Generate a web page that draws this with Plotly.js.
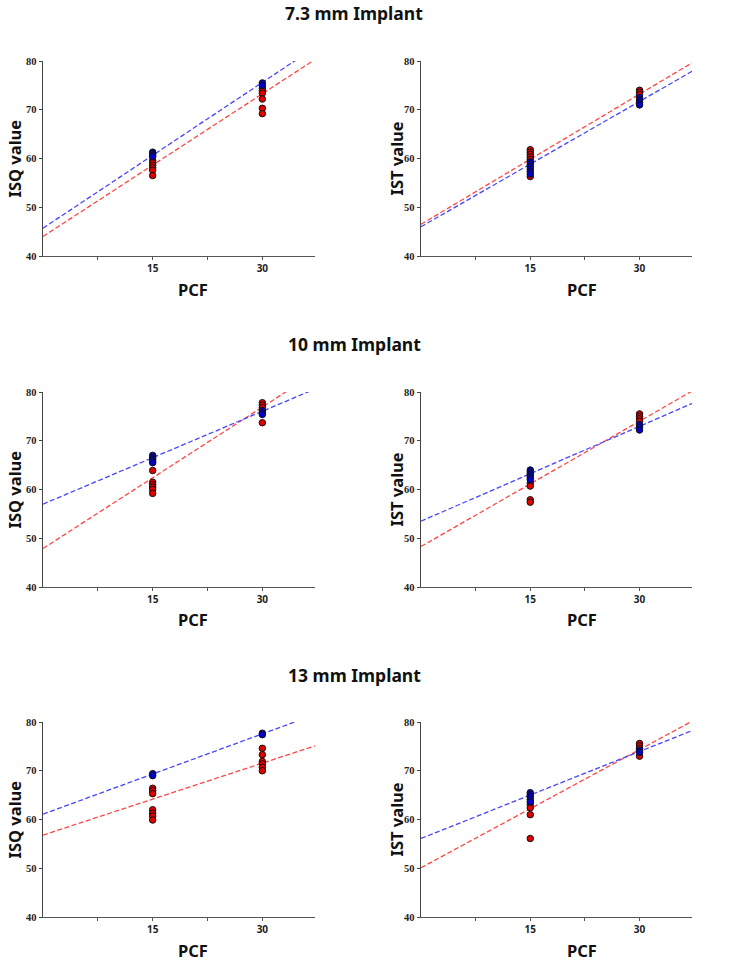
<!DOCTYPE html>
<html><head><meta charset="utf-8">
<script src="https://cdn.plot.ly/plotly-3.0.1.min.js"></script>
<style>html,body{margin:0;padding:0;background:#fff}#chart{width:733px;height:966px}</style>
</head><body><div id="chart"></div>
<script>
const groupTitles = ['7.3 mm Implant', '10 mm Implant', '13 mm Implant'];
const measureTitles = ['ISQ value', 'IST value'];
const xTitle = 'PCF';
const pcfTicks = [7.5, 15, 22.5, 30];
const pcfTickText = ['', '15', '', '30'];
const valueTicks = [40, 50, 60, 70, 80];

// panel order: 7.3 ISQ, 7.3 IST, 10 ISQ, 10 IST, 13 ISQ, 13 IST
const blueAt15 = [
  [61.3, 61.0, 60.7, 60.4],
  [59.3, 58.8, 58.3, 57.8, 57.3, 56.8],
  [67.0, 66.6, 66.2, 65.8, 65.5],
  [64.0, 63.6, 63.2, 62.8, 62.4, 62.0],
  [69.4, 69.0],
  [65.5, 65.1, 64.7, 64.1, 63.6]
];
const redAt15 = [
  [59.6, 59.1, 58.6, 58.1, 57.6, 56.5],
  [61.8, 61.3, 60.8, 60.3, 59.8, 56.3],
  [63.9, 61.5, 61.0, 60.5, 60.0, 59.2],
  [61.3, 60.7, 57.9, 57.4],
  [66.4, 65.9, 65.3, 62.0, 61.3, 60.7, 59.9],
  [63.1, 62.4, 61.0, 56.1]
];
const blueAt30 = [
  [75.5, 75.0],
  [72.5, 72.0, 71.5, 71.0],
  [76.2, 75.8, 75.4],
  [73.3, 72.8, 72.2],
  [77.7, 77.4],
  [74.2, 73.8]
];
const redAt30 = [
  [74.4, 73.9, 73.4, 72.2, 70.3, 69.2],
  [74.0, 73.6, 73.1],
  [77.8, 77.3, 76.8, 73.7],
  [75.5, 75.0, 74.5, 74.0],
  [74.6, 73.3, 71.9, 71.4, 70.7, 70.0],
  [75.6, 75.1, 74.6, 73.0]
];
// regression lines: intercept at PCF 0 and slope
const blueFitIntercept = [45.7, 46.0, 57.0, 53.5, 61.1, 56.1];
const blueFitSlope = [0.997, 0.857, 0.635, 0.649, 0.549, 0.595];
const redFitIntercept = [44.0, 46.5, 47.9, 48.3, 56.8, 50.1];
const redFitSlope = [0.976, 0.890, 0.967, 0.857, 0.492, 0.808];

const X_RANGE = [0, 37.2];
const Y_RANGE = [40, 80];
const W = 733, H = 966;
const colDom = [[43 / W, 315 / W], [421 / W, 692 / W]];
const rowTop = [61, 392, 722];
const rowBot = [256, 587, 917];
const titleY = [13, 344, 675];
const pcfY = [289, 619, 950];
const pcfX = [193, 582];
const yTitleX = [14, 396];

const BLUE_LINE = 'rgb(70,70,255)';
const RED_LINE = 'rgb(255,70,70)';
const BLUE_PT = '#0000cc';
const RED_PT = '#e00000';
const SANS = 'Noto Sans, Open Sans, sans-serif';

const traces = [];
const layout = {
  width: W, height: H,
  margin: {l: 0, r: 0, t: 0, b: 0},
  paper_bgcolor: '#fff', plot_bgcolor: '#fff',
  showlegend: false,
  annotations: []
};

for (let p = 0; p < 6; p++) {
  const row = Math.floor(p / 2), col = p % 2;
  const n = p + 1;
  const xa = n === 1 ? 'x' : 'x' + n;
  const ya = n === 1 ? 'y' : 'y' + n;
  const xKey = n === 1 ? 'xaxis' : 'xaxis' + n;
  const yKey = n === 1 ? 'yaxis' : 'yaxis' + n;

  layout[xKey] = {
    domain: colDom[col], anchor: ya, range: X_RANGE,
    showgrid: false, zeroline: false, showline: true, linecolor: '#555', linewidth: 1.3,
    ticks: 'outside', ticklen: 3, tickcolor: '#555', tickwidth: 1,
    tickvals: pcfTicks, ticktext: pcfTickText,
    tickfont: {family: SANS, size: 10, weight: 'bold', color: '#222'},
    fixedrange: true
  };
  layout[yKey] = {
    domain: [1 - rowBot[row] / H, 1 - rowTop[row] / H], anchor: xa, range: Y_RANGE,
    showgrid: false, zeroline: false, showline: true, linecolor: '#444', linewidth: 1.3,
    ticks: 'outside', ticklen: 3, tickcolor: '#444', tickwidth: 1,
    tickvals: valueTicks,
    tickfont: {family: 'Liberation Serif, Times New Roman, serif', size: 10.5, weight: 'bold', color: '#222'},
    fixedrange: true
  };

  const lineX = [X_RANGE[0], X_RANGE[1]];
  traces.push({
    type: 'scatter', mode: 'lines', xaxis: xa, yaxis: ya, hoverinfo: 'skip',
    x: lineX, y: lineX.map(v => redFitIntercept[p] + redFitSlope[p] * v),
    line: {color: RED_LINE, width: 1.3, dash: '5px,2.5px'}
  });
  traces.push({
    type: 'scatter', mode: 'lines', xaxis: xa, yaxis: ya, hoverinfo: 'skip',
    x: lineX, y: lineX.map(v => blueFitIntercept[p] + blueFitSlope[p] * v),
    line: {color: BLUE_LINE, width: 1.3, dash: '5px,2.5px'}
  });

  const redY = redAt15[p].concat(redAt30[p]);
  const redX = redAt15[p].map(() => 15).concat(redAt30[p].map(() => 30));
  const blueY = blueAt15[p].concat(blueAt30[p]);
  const blueX = blueAt15[p].map(() => 15).concat(blueAt30[p].map(() => 30));
  traces.push({
    type: 'scatter', mode: 'markers', xaxis: xa, yaxis: ya, hoverinfo: 'skip',
    x: redX, y: redY,
    marker: {color: RED_PT, size: 6.5, line: {color: '#111', width: 1}}
  });
  traces.push({
    type: 'scatter', mode: 'markers', xaxis: xa, yaxis: ya, hoverinfo: 'skip',
    x: blueX, y: blueY,
    marker: {color: BLUE_PT, size: 6.5, line: {color: '#111', width: 1}}
  });

  layout.annotations.push({
    xref: 'paper', yref: 'paper', x: yTitleX[col] / W, y: 1 - ((rowTop[row] + rowBot[row]) / 2) / H,
    xanchor: 'center', yanchor: 'middle', textangle: -90, showarrow: false,
    text: measureTitles[col], font: {family: SANS, size: 16.5, weight: 'bold', color: '#111'}
  });
  layout.annotations.push({
    xref: 'paper', yref: 'paper', x: pcfX[col] / W, y: 1 - pcfY[row] / H,
    xanchor: 'center', yanchor: 'middle', showarrow: false,
    text: xTitle, font: {family: SANS, size: 16.5, weight: 'bold', color: '#111'}
  });
}

for (let r = 0; r < 3; r++) {
  layout.annotations.push({
    xref: 'paper', yref: 'paper', x: 354 / W, y: 1 - titleY[r] / H,
    xanchor: 'center', yanchor: 'middle', showarrow: false,
    text: groupTitles[r], font: {family: SANS, size: 17.5, weight: 'bold', color: '#111'}
  });
}

Plotly.newPlot('chart', traces, layout, {staticPlot: true, displayModeBar: false});
</script>
</body></html>
